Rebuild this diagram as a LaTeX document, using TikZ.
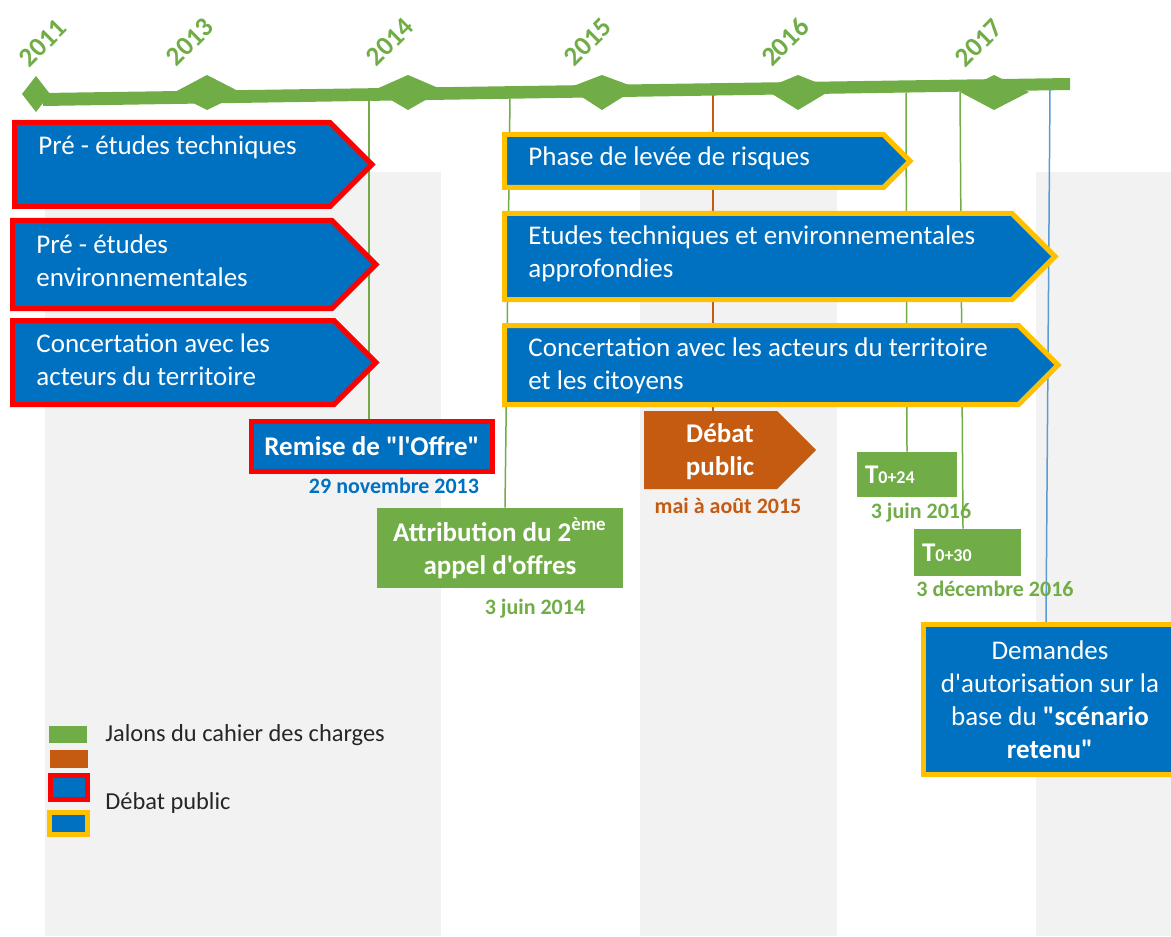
\documentclass[tikz,border=0pt]{standalone}
\usepackage{fontspec}
\setmainfont{Carlito}[Ligatures=TeXOff]
\usetikzlibrary{calc}

\definecolor{bleu}{HTML}{0070C0}
\definecolor{rouge}{HTML}{FF0000}
\definecolor{jaune}{HTML}{FFC000}
\definecolor{vert}{HTML}{70AD47}
\definecolor{rouille}{HTML}{C55A11}
\definecolor{gris}{HTML}{F2F2F2}
\definecolor{bleuclair}{HTML}{5B9BD5}
\definecolor{encre}{HTML}{262626}

\pgfdeclarelayer{fond}
\pgfdeclarelayer{liens}
\pgfsetlayers{fond,liens,main}

\tikzset{
  annee/.style={text=vert, font=\bfseries\fontsize{13.5}{15}\selectfont, rotate=45, inner sep=0pt},
  phaserouge/.style={draw=rouge, line width=2.5pt, fill=bleu},
  phasejaune/.style={draw=jaune, line width=2.5pt, fill=bleu},
  texteboite/.style={text=white, font=\fontsize{13.5}{16.5}\selectfont, align=left, anchor=west, inner sep=0pt},
  jalon/.style={fill=vert, text=white, font=\bfseries\fontsize{13.5}{16.5}\selectfont, align=center, inner sep=0pt},
  datejalon/.style={text=vert, font=\bfseries\fontsize{11}{13}\selectfont, inner sep=0pt},
  lien/.style={line width=0.75pt},
  legende/.style={text=encre, font=\fontsize{12.2}{14}\selectfont, anchor=west, inner sep=0pt},
}

\begin{document}
\begin{tikzpicture}[x=0.5pt, y=-0.5pt]
    \useasboundingbox (0,0) rectangle (1171,936);

    % bandes grises
    \begin{pgfonlayer}{fond}
        \fill[gris] (45,172) rectangle (441,936);
        \fill[gris] (640,172) rectangle (837,936);
        \fill[gris] (1036,172) rectangle (1171,936);
    \end{pgfonlayer}

    % frise
    \fill[vert] (43,93) -- (1070,78) -- (1070,90) -- (43,106) -- cycle;
    \fill[vert] (22,94) -- (36,76) -- (50,94) -- (36,112) -- cycle;
    \foreach \cx/\cy in {207/93, 408/90, 602/88, 798/89, 994/92}
        \fill[vert] (\cx-34,\cy) -- (\cx,75) -- (\cx+35,\cy) -- (\cx,110) -- cycle;

    \node[annee] (a2011) at (43,43) {2011};
    \node[annee] (a2013) at (190,42) {2013};
    \node[annee] (a2014) at (390,42) {2014};
    \node[annee] (a2015) at (588,42) {2015};
    \node[annee] (a2016) at (785,42) {2016};
    \node[annee] (a2017) at (979,43) {2017};

    \coordinate (jremise) at (369,99);
    \coordinate (jattrib) at (510,97);
    \coordinate (jdebat) at (713,95);
    \coordinate (jt24) at (906,93);
    \coordinate (jt30) at (960,92);
    \coordinate (jdemandes) at (1050,89);

    % phases avant l'offre
    \draw[phaserouge] (14.5,122.5) -- (330,122.5) -- (372,164.5) -- (330,206.5) -- (14.5,206.5) -- cycle;
    \draw[phaserouge] (12.5,220.5) -- (332,220.5) -- (376,264.5) -- (332,308.5) -- (12.5,308.5) -- cycle;
    \draw[phaserouge] (12.5,320.5) -- (334,320.5) -- (376,362.5) -- (334,404.5) -- (12.5,404.5) -- cycle;
    \node[texteboite] (pretech) at (38,147) {Pré - études techniques};
    \node[texteboite] (preenv) at (36,261) {Pré - études\\environnementales};
    \node[texteboite] (preconc) at (36,360) {Concertation avec les\\acteurs du territoire};

    % phases apres l'attribution
    \draw[phasejaune] (504.5,134.5) -- (883.5,134.5) -- (910,161) -- (883.5,187.5) -- (504.5,187.5) -- cycle;
    \draw[phasejaune] (504.5,213.5) -- (1012,213.5) -- (1055,256.5) -- (1012,299.5) -- (504.5,299.5) -- cycle;
    \draw[phasejaune] (504.5,325.5) -- (1018.5,325.5) -- (1058,365) -- (1018.5,404.5) -- (504.5,404.5) -- cycle;
    \node[texteboite] (levee) at (528,158) {Phase de levée de risques};
    \node[texteboite] (etudes) at (528,253.5) {Etudes techniques et environnementales\\approfondies};
    \node[texteboite] (concert) at (528,366) {Concertation avec les acteurs du territoire\\et les citoyens};

    % jalons
    \node[jalon, fill=bleu, draw=rouge, line width=2.5pt, minimum width=120.5pt, minimum height=25pt] (remise) at (372,446.5) {Remise de "l'Offre"};
    \node[datejalon, text=bleu] (dremise) at (394,486) {29 novembre 2013};

    \node[jalon, minimum width=123pt, minimum height=40pt] (attrib) at (500,548) {Attribution du 2\textsuperscript{ème}\\appel d'offres};
    \node[datejalon] (dattrib) at (535,609) {3 juin 2014};

    \fill[rouille] (644,411) -- (777,411) -- (816,450) -- (777,489) -- (644,489) -- cycle;
    \node[jalon, fill=none] (debat) at (720,452) {Débat\\public};
    \node[datejalon, text=rouille] (ddebat) at (728,506) {mai à août 2015};

    \node[jalon, align=left, text width=42pt, inner xsep=4pt, minimum height=22.5pt] (t24) at (907,474.5) {T{\fontsize{9}{9}\selectfont 0+24}};
    \node[datejalon] (dt24) at (921,513) {3 juin 2016};

    \node[jalon, align=left, text width=45.5pt, inner xsep=4pt, minimum height=23.5pt] (t30) at (967.5,552.5) {T{\fontsize{9}{9}\selectfont 0+30}};
    \node[datejalon] (dt30) at (995,589) {3 décembre 2016};

    \node[jalon, fill=bleu, draw=jaune, line width=2.5pt, font=\fontsize{13.5}{16.5}\selectfont, minimum width=126.5pt, minimum height=75pt] (demandes) at (1050,699.5) {Demandes\\d'autorisation sur la\\base du \textbf{"scénario}\\\textbf{retenu"}};

    % liens vers la frise
    \begin{pgfonlayer}{liens}
        \draw[lien, vert] (jremise) -- (jremise |- remise.north);
        \draw[lien, vert] (jattrib) -- ($(attrib.north)+(5,0)$);
        \draw[lien, rouille] (jdebat) -- (jdebat |- debat.north);
        \draw[lien, vert] (jt24) -- (t24.north);
        \draw[lien, vert] (jt30) -- ($(t30.north)+(-4.5,0)$);
        \draw[lien, bleuclair] (jdemandes) -- ($(demandes.north)+(-4,0)$);
    \end{pgfonlayer}

    % legende
    \node[fill=vert, minimum width=19pt, minimum height=8.5pt, inner sep=0pt] (lvert) at (68,734.5) {};
    \node[fill=rouille, minimum width=19pt, minimum height=9pt, inner sep=0pt] (lrouille) at (69,759) {};
    \node[phaserouge, minimum width=18.5pt, minimum height=12pt, inner sep=0pt] (lrouge) at (69,787.5) {};
    \node[phasejaune, minimum width=19pt, minimum height=11pt, inner sep=0pt] (ljaune) at (68.5,823.5) {};
    \node[legende] (tjalons) at (105,735) {Jalons du cahier des charges};
    \node[legende] (tdebat) at (105,803) {Débat public};
\end{tikzpicture}
\end{document}
